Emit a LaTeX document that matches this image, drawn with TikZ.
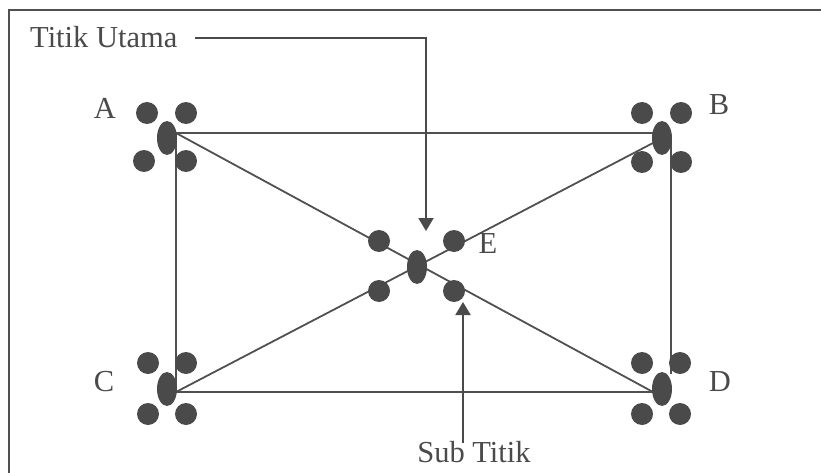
\documentclass[tikz,border=0pt]{standalone}
\usepackage{fontspec}
\setmainfont{Liberation Serif}
\usetikzlibrary{shapes.geometric,arrows.meta}
\definecolor{ink}{HTML}{4A4A4A}
\definecolor{lineink}{HTML}{505050}
\tikzset{
  mainpt/.style={ellipse,fill=ink,draw=none,minimum width=20pt,minimum height=34pt,inner sep=0pt},
  subpt/.style={circle,fill=ink,draw=none,minimum size=22pt,inner sep=0pt},
  lbl/.style={text=ink,inner sep=0pt,font=\fontsize{30.5}{36}\selectfont},
  edge/.style={draw=lineink,line width=1.8pt},
  pointer/.style={draw=ink,line width=2pt,-{Triangle[length=13pt,width=15pt]}},
}
\begin{document}
\begin{tikzpicture}[x=1pt,y=-1pt]
\useasboundingbox (0,0) rectangle (821,473);
% frame
\draw[draw=lineink,line width=2pt] (9,473) -- (9,10) -- (821,10);
% corner points of the network
\coordinate (a) at (176,133);
\coordinate (b1) at (653,133);
\coordinate (b2) at (653,143);
\coordinate (b3) at (671,140);
\coordinate (c) at (176,392);
\coordinate (d1) at (653,392);
\coordinate (d2) at (671,374);
% connectors
\draw[edge] (a) -- (b1);
\draw[edge] (a) -- (c);
\draw[edge] (c) -- (d1);
\draw[edge] (b3) -- (d2);
\draw[edge] (a) -- (d1);
\draw[edge] (c) -- (b2);
% main points
\node[mainpt] (A) at (167,138) {};
\node[mainpt] (B) at (662,138) {};
\node[mainpt] (C) at (167,389) {};
\node[mainpt] (D) at (662,389) {};
\node[mainpt] (E) at (417,267) {};
% sub points
\node[subpt] (A1) at (147,113) {};
\node[subpt] (A2) at (186,113) {};
\node[subpt] (A3) at (144,161) {};
\node[subpt] (A4) at (186,161) {};
\node[subpt] (B1) at (642,113) {};
\node[subpt] (B2) at (681,113) {};
\node[subpt] (B3) at (642,162) {};
\node[subpt] (B4) at (681,162) {};
\node[subpt] (C1) at (148,363) {};
\node[subpt] (C2) at (186,363) {};
\node[subpt] (C3) at (148,414) {};
\node[subpt] (C4) at (186,414) {};
\node[subpt] (D1) at (642,363) {};
\node[subpt] (D2) at (680,363) {};
\node[subpt] (D3) at (642,414) {};
\node[subpt] (D4) at (680,414) {};
\node[subpt] (E1) at (379,241) {};
\node[subpt] (E2) at (454,241) {};
\node[subpt] (E3) at (379,291) {};
\node[subpt] (E4) at (454,291) {};
% point labels
\node[lbl] (lA) at (105,108) {A};
\node[lbl] (lB) at (719,105) {B};
\node[lbl] (lC) at (104,382) {C};
\node[lbl] (lD) at (720,382) {D};
\node[lbl] (lE) at (488,244) {E};
% callouts
\node[lbl,anchor=base west] (tu) at (30,48) {Titik Utama};
\node[lbl,anchor=base] (st) at (474,462) {Sub Titik};
\coordinate (tus) at (195,38);
\coordinate (tue) at (426,231);
\draw[pointer] (tus) -| (tue);
\coordinate (sts) at (463,443);
\coordinate (ste) at (463,302);
\draw[pointer] (sts) -- (ste);
\end{tikzpicture}
\end{document}
